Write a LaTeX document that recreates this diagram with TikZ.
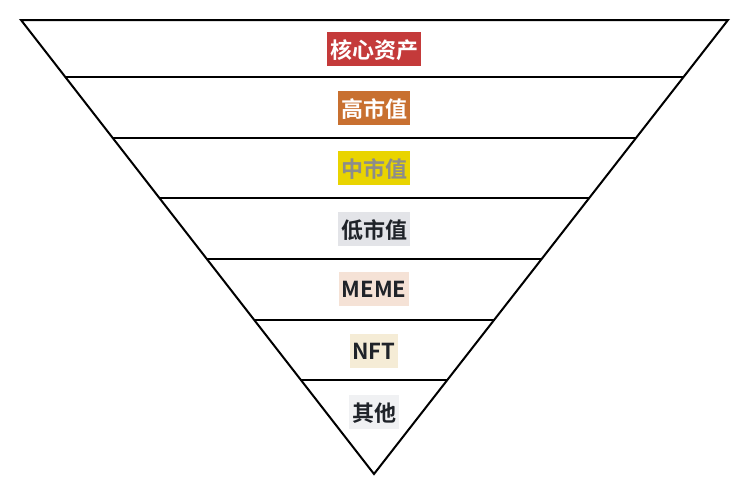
\documentclass[tikz,border=0pt]{standalone}
\usepackage{fontspec}
\newfontfamily\cjk{Noto Sans CJK SC}[BoldFont={Noto Sans CJK SC Bold}]
\usetikzlibrary{calc}
\definecolor{cred}{RGB}{196,58,58}
\definecolor{corange}{RGB}{200,112,48}
\definecolor{cyellow}{RGB}{233,212,0}
\definecolor{cgraytext}{RGB}{140,140,140}
\definecolor{clgray}{RGB}{227,228,232}
\definecolor{cmeme}{RGB}{245,226,214}
\definecolor{cnft}{RGB}{245,236,214}
\definecolor{cother}{RGB}{240,241,243}
\definecolor{cdark}{RGB}{31,35,41}
\tikzset{
  tag/.style={font=\cjk\bfseries\fontsize{16.5pt}{18pt}\selectfont, inner xsep=2pt, inner ysep=0pt, minimum height=25pt, text depth=0pt},
  edge/.style={line width=1.5pt, line join=miter}
}
\begin{document}
\begin{tikzpicture}[x=0.75pt,y=-0.75pt]
\useasboundingbox (0,0) rectangle (750,496);
\coordinate (TL) at (21,20);
\coordinate (TR) at (728,20);
\coordinate (A) at (374,474);
\draw[edge] (TL) -- (TR) -- (A) -- cycle;
\foreach \t [count=\i] in {0.1256,0.2599,0.3921,0.5264,0.6608,0.7930}{
  \coordinate (l\i) at ($(TL)!\t!(A)$);
  \coordinate (r\i) at ($(TR)!\t!(A)$);
  \draw[edge] (l\i) -- (r\i);
}
\node[tag, fill=cred, text=white] (n1) at (374,49) {核心资产};
\node[tag, fill=corange, text=white] (n2) at (374,108) {高市值};
\node[tag, fill=cyellow, text=cgraytext] (n3) at (374,168) {中市值};
\node[tag, fill=clgray, text=cdark] (n4) at (374,229) {低市值};
\node[tag, fill=cmeme, text=cdark] (n5) at (374,289) {MEME};
\node[tag, fill=cnft, text=cdark] (n6) at (374,351) {NFT};
\node[tag, fill=cother, text=cdark] (n7) at (374,412) {其他};
\end{tikzpicture}
\end{document}
